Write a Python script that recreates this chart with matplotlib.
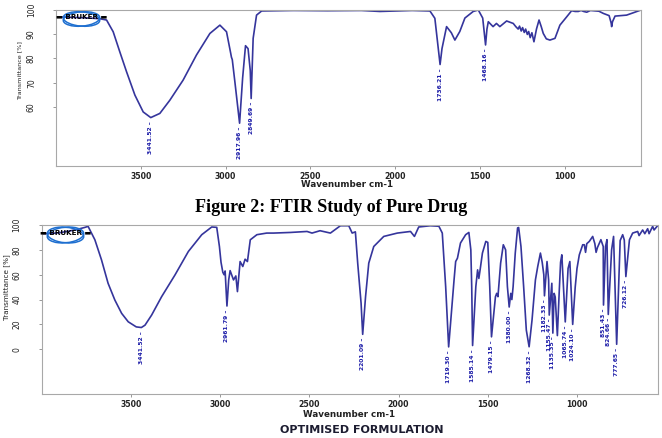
"""FTIR spectra: pure drug vs optimised formulation."""

import matplotlib
matplotlib.use("Agg")
import matplotlib.pyplot as plt
from matplotlib.patches import Ellipse

# --- Pure drug spectrum (wavenumber cm-1, transmittance %) ---
drug_wn = [4000, 3900, 3800, 3740, 3702, 3663, 3624, 3584, 3535, 3486, 3441.52,
           3388, 3329, 3251, 3172, 3093, 3034, 2995, 2970, 2966, 2961, 2945,
           2917.96, 2900, 2883, 2868, 2855, 2849.69, 2838, 2818, 2788, 2600,
           2400, 2200, 2091, 1900, 1796, 1767, 1747, 1736.21, 1725, 1698, 1670,
           1649, 1620, 1590, 1541, 1511, 1485, 1475, 1468.16, 1460, 1452, 1424,
           1404, 1384, 1344, 1305, 1290, 1276, 1268, 1258, 1250, 1240, 1232,
           1222, 1214, 1205, 1195, 1183, 1168, 1153, 1140, 1128, 1110, 1089,
           1059, 1030, 990, 961, 940, 922, 905, 890, 872, 850, 800, 774, 740,
           728, 725, 720, 705, 637, 600, 552]
drug_t = [97.0, 96.8, 96.5, 96.2, 95.7, 90.9, 82.7, 74.5, 65.0, 58.1, 55.8,
          57.5, 62.9, 71.1, 81.4, 90.2, 93.6, 90.9, 82.0, 80.5, 79.5, 70.0,
          53.5, 72.0, 85.2, 84.0, 75.0, 63.6, 88.2, 97.7, 99.4, 99.6,
          99.5, 99.6, 99.2, 99.6, 99.4, 96.4, 84.1, 77.5, 84.0, 93.0, 90.5,
          87.5, 91.0, 96.5, 99.2, 99.8, 96.5, 90.0, 85.5, 92.0, 95.0, 93.0,
          94.3, 93.0, 95.3, 94.3, 93.0, 92.0, 93.2, 91.2, 92.6, 90.6, 92.0,
          89.8, 91.0, 88.5, 90.5, 86.8, 92.0, 95.7, 93.0, 90.2, 88.0, 87.5,
          88.2, 93.6, 97.0, 99.5, 99.2, 99.2, 99.6, 99.2, 98.9, 99.6, 99.3, 98.4, 97.5,
          94.5, 93.0, 95.0, 97.3, 97.7, 98.6, 99.8]
drug_peaks = ["3441.52", "2917.96", "2849.69", "1736.21", "1468.16"]
drug_peak_t = [55.8, 53.5, 63.6, 77.5, 85.5]

# --- Optimised formulation spectrum ---
form_wn = [4000, 3950, 3900, 3850, 3800, 3760, 3740, 3702, 3665, 3628, 3590,
           3552, 3515, 3470, 3441.52, 3421, 3384, 3328, 3253, 3178, 3103,
           3047, 3019, 3004, 2995, 2985, 2978, 2972, 2961.79, 2952, 2944,
           2925, 2912, 2903, 2888, 2873, 2860, 2847, 2831, 2794, 2739, 2701,
           2607, 2513, 2485, 2440, 2382, 2340, 2326, 2279, 2260, 2242, 2229,
           2210, 2201.09, 2185, 2167, 2139, 2083, 2007, 1933, 1911, 1887, 1822,
           1774, 1755, 1736, 1719.30, 1689, 1680, 1670, 1653, 1624, 1606, 1595,
           1590, 1585.14, 1567, 1557, 1550, 1543, 1530, 1511, 1500, 1489,
           1479.15, 1466, 1457, 1450, 1443, 1428, 1413, 1400, 1390, 1380.00,
           1371, 1365, 1358, 1346, 1333, 1327, 1314, 1299, 1284, 1268.32, 1252,
           1233, 1220, 1205, 1195, 1186, 1182.33, 1168, 1159, 1155.47, 1141,
           1135.35, 1128, 1122, 1110, 1100, 1092, 1085, 1065.74, 1050, 1040,
           1024.10, 1010, 1000, 987, 968, 959, 952, 945, 931, 912, 900, 893,
           885, 866, 853, 851.43, 840, 832, 824.66, 806, 795, 777.65, 758, 744,
           735, 726.12, 706, 688, 660, 652, 632, 620, 604, 596, 576, 568, 548]
form_t = [93.0, 93.2, 93.8, 95.0, 96.5, 98.0, 98.9, 88.1, 72.0, 53.1, 39.6,
          28.9, 22.1, 18.0, 17.5, 19.4, 27.5, 42.3, 59.8, 78.7, 92.2,
          98.4, 98.1, 82.7, 70.0, 62.0, 60.0, 63.0, 34.8, 55.8, 63.3,
          55.8, 59.0, 46.4, 70.6, 66.6, 72.5, 70.6, 88.1, 92.2, 93.5, 93.5,
          94.0, 94.8, 93.5, 95.4, 93.5, 98.0, 99.4, 99.4, 93.5, 94.5, 69.3,
          37.0, 12.0, 42.3, 69.3, 82.7, 90.8, 93.5, 94.8, 90.8, 98.4, 99.4,
          99.0, 93.5, 50.4, 1.9, 55.8, 70.6, 73.3, 85.5, 92.2, 94.0, 80.0,
          50.4, 3.0, 50.4, 63.9, 57.0, 63.9, 77.4, 86.8, 86.0, 50.4,
          10.0, 28.9, 42.3, 45.0, 42.3, 69.3, 84.1, 80.0, 50.4, 34.0,
          45.0, 40.0, 50.4, 77.4, 97.6, 98.0, 82.7, 50.4, 15.4, 2.0, 23.5,
          55.8, 66.6, 77.4, 70.0, 60.0, 43.0, 70.6, 55.8, 27.5, 53.1,
          13.0, 45.0, 42.0, 11.0, 45.0, 70.0, 76.0, 22.0, 65.0, 70.6,
          20.0, 50.0, 65.0, 76.0, 84.1, 84.1, 78.0, 85.0, 86.8, 90.8, 85.0, 78.0,
          82.0, 88.2, 82.7, 35.6, 82.7, 88.2, 28.0, 80.0, 90.8, 4.0, 87.5, 92.2,
          88.0, 58.5, 88.1, 93.5, 94.8, 91.5, 96.0, 93.0, 97.0, 93.0, 98.9, 96.0, 99.5]
form_peaks = ["3441.52", "2961.79", "2201.09", "1719.30", "1585.14", "1479.15",
              "1380.00", "1268.32", "1182.33", "1155.47", "1135.35", "1065.74",
              "1024.10", "851.43", "824.66", "777.65", "726.12"]
form_peak_t = [17.5, 34.8, 12.0, 1.9, 3.0, 10.0, 34.0, 2.0, 43.0, 27.5, 13.0,
               22.0, 20.0, 35.6, 28.0, 4.0, 58.5]

drug_yticks = [60, 70, 80, 90, 100]
form_yticks = [0, 20, 40, 60, 80, 100]
x_ticks = [3500, 3000, 2500, 2000, 1500, 1000]

W, H = 662, 438
LINE = "#35359c"
LABEL_BLUE = "#1c1ca8"
NARROW = ["Liberation Sans Narrow", "DejaVu Sans"]


def px_rect(x0, y0, x1, y1):
    """Pixel box (top-left origin) -> figure fraction rect."""
    return [x0 / W, 1 - y1 / H, (x1 - x0) / W, (y1 - y0) / H]


def draw_panel(ax, wn, t, peaks, peak_t, yticks, xlim, ylim):
    ax.plot(wn, t, color=LINE, lw=1.2, solid_joinstyle="round")
    ax.set_xlim(xlim)
    ax.set_ylim(ylim)
    ax.set_xticks(x_ticks)
    ax.set_yticks(yticks)
    ax.set_xticklabels([str(v) for v in x_ticks], fontsize=5.6,
                       fontweight="bold", color="#222222")
    ax.set_yticklabels([str(v) for v in yticks], rotation=90, va="center",
                       fontsize=5.5, family=NARROW, color="#222222")
    ax.tick_params(axis="x", length=2.5, width=0.6, color="#888888", pad=2)
    ax.tick_params(axis="y", length=2.5, width=0.6, color="#888888", pad=12)
    for sp in ax.spines.values():
        sp.set_color("#a8a8a8")
        sp.set_linewidth(0.8)

    # peak labels under each band
    for lab, val in zip(peaks, peak_t):
        ax.annotate(lab + " \u2013", xy=(float(lab), val), xytext=(0, -2.5),
                    textcoords="offset points", rotation=90, ha="center",
                    va="top", fontsize=4.3, family=NARROW,
                    fontweight="bold", color=LABEL_BLUE)


def draw_logo(fig, box):
    lax = fig.add_axes(px_rect(*box))
    lax.set_xlim(-1, 1)
    lax.set_ylim(-1, 1)
    lax.axis("off")
    for ang in (28, -28):
        lax.add_patch(Ellipse((0, 0), 1.55, 1.25, angle=ang, fill=False,
                              ec="#1e6fd0", lw=1.1))
    lax.text(0, 0.15, "\u25ac BRUKER \u25ac", ha="center", va="center",
             fontsize=5.2, fontweight="bold", color="black")


fig = plt.figure(figsize=(W / 100, H / 100), dpi=100)

ax1 = fig.add_axes(px_rect(56, 9.5, 641, 166))
draw_panel(ax1, drug_wn, drug_t, drug_peaks, drug_peak_t, drug_yticks,
           (4000, 552), (36, 100))

ax2 = fig.add_axes(px_rect(41.7, 225, 658, 394))
draw_panel(ax2, form_wn, form_t, form_peaks, form_peak_t, form_yticks,
           (4000, 546), (-36, 100))

draw_logo(fig, (57, 8, 106, 30))
draw_logo(fig, (41, 223, 90, 247))

# axis titles and captions
fig.text(20 / W, 1 - 71 / H, "Transmittance [%]", rotation=90, ha="center",
         va="center", fontsize=4.6, family=NARROW, color="#222222")
fig.text(7 / W, 1 - 287 / H, "Transmittance [%]", rotation=90, ha="center",
         va="center", fontsize=5.2, family=NARROW, color="#222222")
fig.text(347 / W, 1 - 184.5 / H, "Wavenumber cm-1", ha="center", va="center",
         fontsize=6.3, fontweight="bold", color="#222222")
fig.text(349 / W, 1 - 414.5 / H, "Wavenumber cm-1", ha="center", va="center",
         fontsize=6.3, fontweight="bold", color="#222222")
fig.text(331 / W, 1 - 207 / H, "Figure 2: FTIR Study of Pure Drug",
         ha="center", va="center", fontsize=13, fontweight="bold",
         family="Liberation Serif")
fig.text(362 / W, 1 - 430 / H, "OPTIMISED FORMULATION", ha="center",
         va="center", fontsize=8, fontweight="bold", color="#1c1c30")

fig.savefig("out.png", dpi=100)
